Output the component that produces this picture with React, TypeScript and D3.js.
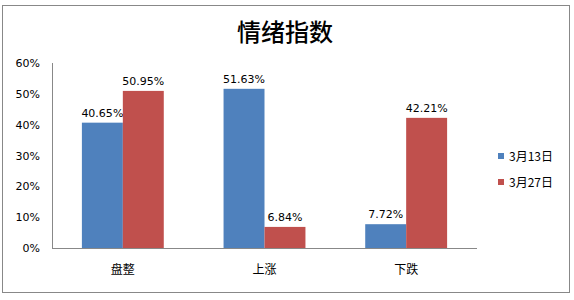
import React from "react";
import * as d3 from "d3";

const categories = ["盘整", "上涨", "下跌"];
const seriesNames = ["3月13日", "3月27日"];
const series13 = [40.65, 51.63, 7.72];
const series27 = [50.95, 6.84, 42.21];
const yTicks = [0, 10, 20, 30, 40, 50, 60];
const colors = ["#4F81BD", "#C0504D"];

export default function App() {
  const W = 574, H = 300;
  const left = 52, right = 477, top = 63, bottom = 248;
  const x = d3.scaleBand<string>().domain(categories).range([left, right]).paddingInner(0).paddingOuter(0);
  const bw = x.bandwidth();
  const inner = d3.scaleBand<string>().domain(seriesNames).range([0, bw]).paddingOuter(0.73).paddingInner(0);
  const y = d3.scaleLinear().domain([0, 60]).range([bottom, top]);
  const data = [series13, series27];
  const font = "'DejaVu Sans', Verdana, sans-serif";
  const cjk = "'Noto Sans CJK SC', sans-serif";
  return (
    <svg width={W} height={H} style={{ position: "absolute", left: 0, top: 0, background: "#fff" }}>
      <rect x={2.5} y={5.5} width={567} height={287} fill="#fff" stroke="#888" strokeWidth={1} />
      <text x={285} y={41} textAnchor="middle" fontFamily={cjk} fontSize={24} fontWeight={500} fill="#000">情绪指数</text>
      {yTicks.map((t) => (
        <text key={t} x={40} y={y(t) + 4} textAnchor="end" fontFamily={font} fontSize={11} fill="#000">{t}%</text>
      ))}
      {data.map((vals, si) =>
        categories.map((c, ci) => {
          const bx = (x(c) as number) + (inner(seriesNames[si]) as number);
          const w = inner.bandwidth();
          return (
            <g key={`${si}-${ci}`}>
              <rect x={bx} y={y(vals[ci])} width={w} height={bottom - y(vals[ci])} fill={colors[si]} />
              <text x={bx + w / 2} y={y(vals[ci]) - 6} textAnchor="middle" fontFamily={font} fontSize={11} fill="#000">{vals[ci].toFixed(2)}%</text>
            </g>
          );
        })
      )}
      <line x1={left + 0.5} y1={top} x2={left + 0.5} y2={bottom} stroke="#888" />
      <line x1={left} y1={bottom + 0.5} x2={right} y2={bottom + 0.5} stroke="#888" />
      {categories.map((c) => (
        <text key={c} x={(x(c) as number) + bw / 2} y={274} textAnchor="middle" fontFamily={cjk} fontSize={12} fill="#000">{c}</text>
      ))}
      {seriesNames.map((s, i) => (
        <g key={s}>
          <rect x={498} y={153 + i * 26} width={6} height={6} fill={colors[i]} />
          <text x={509} y={161 + i * 26} fontFamily={cjk} fontSize={12} fill="#000">{s}</text>
        </g>
      ))}
    </svg>
  );
}
